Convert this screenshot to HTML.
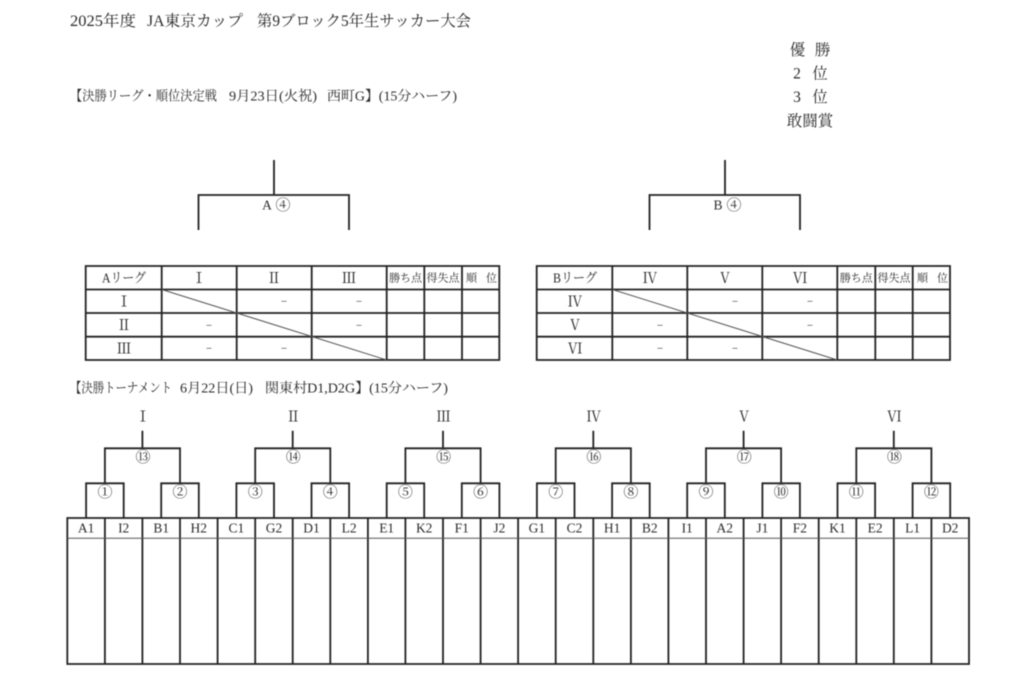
<!DOCTYPE html>
<html lang="ja"><head><meta charset="utf-8"><title>2025年度 JA東京カップ</title>
<style>
html,body{margin:0;padding:0;background:#fff;width:1024px;height:690px;overflow:hidden}
svg{display:block;filter:blur(.45px)}
text{font-family:"Liberation Serif","Noto Serif CJK SC","Noto Serif CJK JP",serif;fill:#2a2a2a}
.m{text-anchor:middle}
.s{font-size:13.5px}
.r{font-size:14.5px}
.x{font-size:11px}
.c{font-size:15px}
.h{font-size:15.5px}
.l{stroke:#222;stroke-width:1.8;fill:none}
.t{stroke:#555;stroke-width:1;fill:none}
</style></head><body>
<svg width="1024" height="690" viewBox="0 0 1024 690" xmlns="http://www.w3.org/2000/svg">
<text class="h" x="70" y="26" textLength="66" lengthAdjust="spacingAndGlyphs">2025年度</text>
<text class="h" x="147" y="26" textLength="96" lengthAdjust="spacingAndGlyphs">JA東京カップ</text>
<text class="h" x="257" y="26" textLength="214" lengthAdjust="spacingAndGlyphs">第9ブロック5年生サッカー大会</text>
<text class="h m" x="797.500" y="55">優</text><text class="h m" x="822.500" y="55">勝</text>
<text class="h m" x="797" y="78.500">2</text><text class="h m" x="820" y="78.500">位</text>
<text class="h m" x="797" y="102">3</text><text class="h m" x="820" y="102">位</text>
<text class="h m" x="810" y="126">敢闘賞</text>

<text class="s" x="70" y="100.500" textLength="147" lengthAdjust="spacingAndGlyphs">【決勝リーグ・順位決定戦</text>
<text class="s" x="229" y="100.500" textLength="88" lengthAdjust="spacingAndGlyphs">9月23日(火祝)</text>
<text class="s" x="327" y="100.500" textLength="130" lengthAdjust="spacingAndGlyphs">西町G】(15分ハーフ)</text>
<text class="s" x="70" y="392.500" textLength="102" lengthAdjust="spacingAndGlyphs">【決勝トーナメント</text>
<text class="s" x="180" y="392.500" textLength="73" lengthAdjust="spacingAndGlyphs">6月22日(日)</text>
<text class="s" x="265" y="392.500" textLength="183" lengthAdjust="spacingAndGlyphs">関東村D1,D2G】(15分ハーフ)</text>

<path class="l" d="M274 160V195M198.500 230V195H349V230M725 160V195M649.500 230V195H800V230"/>
<text class="s m" x="267" y="209.500">A</text><text class="c m" x="283" y="210">④</text>
<text class="s m" x="718" y="209.500">B</text><text class="c m" x="734" y="210">④</text>

<!-- League A -->
<path class="l" d="M85.700 266H499.300V360H85.700ZM85.700 289.500H499.300M85.700 313H499.300M85.700 336.700H499.300M161.700 266V360M236.700 266V360M311.700 266V360M386.700 266V360M424.300 266V360M462 266V360"/>
<path class="t" d="M161.700 289.500L386.700 360"/>
<text class="s m" x="124" y="282.500" textLength="44" lengthAdjust="spacingAndGlyphs">Aリーグ</text>
<text class="r m" x="199" y="283">Ⅰ</text><text class="r m" x="274" y="283">Ⅱ</text><text class="r m" x="349" y="283">Ⅲ</text>
<text class="x m" x="405.500" y="281.500">勝ち点</text><text class="x m" x="443" y="281.500">得失点</text><text class="x m" x="471.500" y="281.500">順</text><text class="x m" x="491.500" y="281.500">位</text>
<text class="r m" x="124" y="306.500">Ⅰ</text><text class="r m" x="124" y="330">Ⅱ</text><text class="r m" x="124" y="353.500">Ⅲ</text>
<text class="x m" x="284" y="305">−</text><text class="x m" x="359" y="305">−</text>
<text class="x m" x="209" y="329">−</text><text class="x m" x="359" y="329">−</text>
<text class="x m" x="209" y="352">−</text><text class="x m" x="284" y="352">−</text>

<!-- League B -->
<path class="l" d="M536.700 266H950V360H536.700ZM536.700 289.500H950M536.700 313H950M536.700 336.700H950M612.300 266V360M687.300 266V360M762.300 266V360M837.300 266V360M875.300 266V360M912.700 266V360"/>
<path class="t" d="M612.300 289.500L837.300 360"/>
<text class="s m" x="575" y="282.500" textLength="44" lengthAdjust="spacingAndGlyphs">Bリーグ</text>
<text class="r m" x="650" y="283">Ⅳ</text><text class="r m" x="725" y="283">Ⅴ</text><text class="r m" x="800" y="283">Ⅵ</text>
<text class="x m" x="856.300" y="281.500">勝ち点</text><text class="x m" x="894" y="281.500">得失点</text><text class="x m" x="922.500" y="281.500">順</text><text class="x m" x="942.500" y="281.500">位</text>
<text class="r m" x="575" y="306.500">Ⅳ</text><text class="r m" x="575" y="330">Ⅴ</text><text class="r m" x="575" y="353.500">Ⅵ</text>
<text class="x m" x="735" y="305">−</text><text class="x m" x="810" y="305">−</text>
<text class="x m" x="660" y="329">−</text><text class="x m" x="810" y="329">−</text>
<text class="x m" x="660" y="352">−</text><text class="x m" x="735" y="352">−</text>

<!-- Tournament brackets -->
<path class="l" d="M86.100 518V483.300H123.700V518M161.200 518V483.300H198.800V518M236.400 518V483.300H274V518M311.500 518V483.300H349.100V518M386.700 518V483.300H424.200V518M461.800 518V483.300H499.400V518M536.900 518V483.300H574.500V518M612.100 518V483.300H649.700V518M687.200 518V483.300H724.800V518M762.400 518V483.300H799.900V518M837.500 518V483.300H875.100V518M912.600 518V483.300H950.200V518"/>
<path class="l" d="M104.900 483.300V448.300H180V483.300M142.400 430.700V448.300M255.200 483.300V448.300H330.300V483.300M292.700 430.700V448.300M405.400 483.300V448.300H480.600V483.300M443 430.700V448.300M555.700 483.300V448.300H630.900V483.300M593.300 430.700V448.300M706 483.300V448.300H781.100V483.300M743.600 430.700V448.300M856.300 483.300V448.300H931.400V483.300M893.800 430.700V448.300"/>

<text class="r m" x="142.900" y="421.500">Ⅰ</text><text class="r m" x="293.200" y="421.500">Ⅱ</text><text class="r m" x="443.500" y="421.500">Ⅲ</text><text class="r m" x="593.800" y="421.500">Ⅳ</text><text class="r m" x="744.100" y="421.500">Ⅴ</text><text class="r m" x="894.300" y="421.500">Ⅵ</text>

<text class="c m" x="143" y="462">⑬</text><text class="c m" x="293.300" y="462">⑭</text><text class="c m" x="443.600" y="462">⑮</text><text class="c m" x="593.900" y="462">⑯</text><text class="c m" x="744.200" y="462">⑰</text><text class="c m" x="894.400" y="462">⑱</text>

<text class="c m" x="105" y="497">①</text><text class="c m" x="180" y="497">②</text><text class="c m" x="255.200" y="497">③</text><text class="c m" x="330.300" y="497">④</text><text class="c m" x="405.400" y="497">⑤</text><text class="c m" x="480.600" y="497">⑥</text><text class="c m" x="555.700" y="497">⑦</text><text class="c m" x="630.900" y="497">⑧</text><text class="c m" x="706" y="497">⑨</text><text class="c m" x="781.100" y="497">⑩</text><text class="c m" x="856.300" y="497">⑪</text><text class="c m" x="931.400" y="497">⑫</text>

<!-- Tournament grid -->
<path class="l" d="M67.300 518H969V664H67.300ZM104.900 518V664M142.400 518V664M180 518V664M217.600 518V664M255.200 518V664M292.700 518V664M330.300 518V664M367.900 518V664M405.400 518V664M443 518V664M480.600 518V664M518.100 518V664M555.700 518V664M593.300 518V664M630.900 518V664M668.400 518V664M706 518V664M743.600 518V664M781.100 518V664M818.700 518V664M856.300 518V664M893.800 518V664M931.400 518V664"/>
<path class="t" d="M67.300 538.300H969"/>

<text class="s m" x="86.100" y="532.500">A1</text><text class="s m" x="123.700" y="532.500">I2</text><text class="s m" x="161.200" y="532.500">B1</text><text class="s m" x="198.800" y="532.500">H2</text>
<text class="s m" x="236.400" y="532.500">C1</text><text class="s m" x="274" y="532.500">G2</text><text class="s m" x="311.500" y="532.500">D1</text><text class="s m" x="349.100" y="532.500">L2</text>
<text class="s m" x="386.700" y="532.500">E1</text><text class="s m" x="424.200" y="532.500">K2</text><text class="s m" x="461.800" y="532.500">F1</text><text class="s m" x="499.400" y="532.500">J2</text>
<text class="s m" x="536.900" y="532.500">G1</text><text class="s m" x="574.500" y="532.500">C2</text><text class="s m" x="612.100" y="532.500">H1</text><text class="s m" x="649.700" y="532.500">B2</text>
<text class="s m" x="687.200" y="532.500">I1</text><text class="s m" x="724.800" y="532.500">A2</text><text class="s m" x="762.400" y="532.500">J1</text><text class="s m" x="799.900" y="532.500">F2</text>
<text class="s m" x="837.500" y="532.500">K1</text><text class="s m" x="875.100" y="532.500">E2</text><text class="s m" x="912.600" y="532.500">L1</text><text class="s m" x="950.200" y="532.500">D2</text>
</svg>
</body></html>
